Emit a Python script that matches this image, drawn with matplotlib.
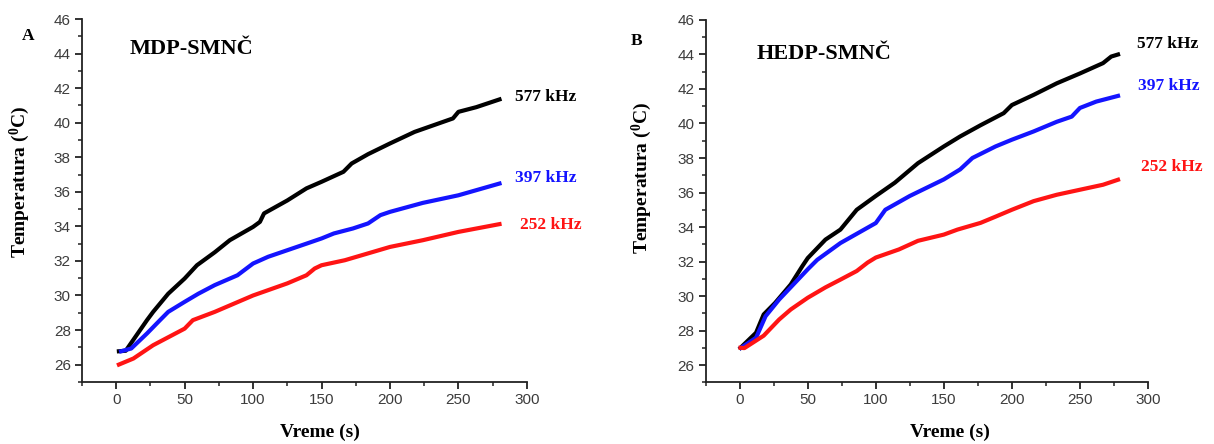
import matplotlib
matplotlib.use("Agg")
import matplotlib.pyplot as plt
from matplotlib.ticker import MultipleLocator

# Heating curves, panel A (MDP-SMNČ)
t_a_577 = [2, 7, 22.5, 27, 38, 50, 59, 72, 83, 100, 105, 108, 125, 139, 150, 166, 172, 184, 200, 218, 232, 246, 250, 263, 280]
T_a_577 = [26.77, 26.8, 28.57, 29.05, 30.1, 30.98, 31.75, 32.5, 33.2, 33.97, 34.26, 34.75, 35.5, 36.2, 36.58, 37.16, 37.64, 38.18, 38.8, 39.47, 39.86, 40.25, 40.63, 40.9, 41.35]

t_a_397 = [3.6, 11, 22.5, 32, 38, 50, 60, 72, 88.6, 100, 111, 125, 139, 150, 159, 173, 184, 193, 200, 224, 250, 280]
T_a_397 = [26.77, 26.93, 27.8, 28.57, 29.05, 29.63, 30.1, 30.6, 31.17, 31.85, 32.24, 32.62, 33.0, 33.3, 33.59, 33.88, 34.17, 34.65, 34.84, 35.36, 35.8, 36.48]

t_a_252 = [2, 12.6, 27, 50, 56, 72, 100, 125, 139, 145, 150, 167, 200, 224, 250, 280]
T_a_252 = [26.0, 26.35, 27.12, 28.08, 28.57, 29.05, 30.0, 30.7, 31.17, 31.56, 31.75, 32.04, 32.81, 33.2, 33.68, 34.13]

# Heating curves, panel B (HEDP-SMNČ)
t_b_577 = [0.6, 12, 17.6, 26, 37.5, 46, 50, 63, 74, 86, 100, 114, 131, 150, 162, 177, 194, 200, 216, 233, 250, 267, 273, 278]
T_b_577 = [27.0, 27.87, 28.93, 29.6, 30.67, 31.73, 32.2, 33.27, 33.85, 35.0, 35.8, 36.57, 37.7, 38.67, 39.25, 39.9, 40.6, 41.07, 41.66, 42.33, 42.9, 43.5, 43.88, 44.0]

t_b_397 = [1, 12, 19, 29, 50, 57, 74, 100, 107, 125, 150, 162, 171, 188, 200, 216, 233, 244, 250, 262, 278]
T_b_397 = [27.0, 27.58, 28.83, 29.8, 31.55, 32.1, 33.07, 34.23, 35.0, 35.8, 36.76, 37.34, 38.0, 38.67, 39.06, 39.54, 40.1, 40.4, 40.9, 41.27, 41.6]

t_b_252 = [0.6, 3.4, 17.6, 29, 37.5, 50, 63, 74, 86, 94, 100, 117, 131, 150, 160, 177, 188, 200, 216, 233, 250, 267, 278]
T_b_252 = [27.0, 26.98, 27.7, 28.64, 29.22, 29.9, 30.5, 30.95, 31.45, 31.94, 32.23, 32.7, 33.2, 33.56, 33.85, 34.24, 34.6, 35.0, 35.5, 35.87, 36.16, 36.45, 36.74]

freq_labels = ["577 kHz", "397 kHz", "252 kHz"]
colors = ["#000000", "#1414ff", "#ff1414"]

# label anchor points (data coordinates) for each series
lab_a = [(291, 41.5), (291, 36.8), (295, 34.1)]
lab_b = [(292, 44.6), (293, 42.2), (295, 37.5)]

serif = ["Liberation Serif", "DejaVu Serif"]
sans = ["Liberation Sans", "DejaVu Sans"]
tick_color = "#3c3c3c"

fig = plt.figure(figsize=(12.14, 4.44), dpi=100)
ax_a = fig.add_axes([0.0675, 0.140, 0.3665, 0.817])
ax_b = fig.add_axes([0.5813, 0.139, 0.3643, 0.816])

panels = [
    (ax_a, [(t_a_577, T_a_577), (t_a_397, T_a_397), (t_a_252, T_a_252)], lab_a,
     "MDP-SMNČ", (0.108, 0.917), (0.535, -0.139), (-0.112, 0.55)),
    (ax_b, [(t_b_577, T_b_577), (t_b_397, T_b_397), (t_b_252, T_b_252)], lab_b,
     "HEDP-SMNČ", (0.115, 0.906), (0.552, -0.139), (-0.118, 0.564)),
]

for ax, series, labs, title, title_pos, xl_pos, yl_pos in panels:
    for (t, T), c, lab, (lx, ly) in zip(series, colors, freq_labels, labs):
        ax.plot(t, T, color=c, lw=3.0, solid_joinstyle="round")
        ax.text(lx, ly, lab, color=c, fontsize=12.5, fontweight="bold",
                family=serif, ha="left", va="center", clip_on=False)
    ax.set_xlim(-25, 300)
    ax.set_ylim(25, 46)
    ax.xaxis.set_major_locator(MultipleLocator(50))
    ax.xaxis.set_minor_locator(MultipleLocator(25))
    ax.yaxis.set_minor_locator(MultipleLocator(1))
    ax.set_yticks(range(26, 47, 2))
    for s in ("top", "right"):
        ax.spines[s].set_visible(False)
    for s in ("left", "bottom"):
        ax.spines[s].set_linewidth(1.3)
        ax.spines[s].set_color("#222222")
    ax.tick_params(which="major", direction="out", length=5, width=1.3,
                   color="#222222", labelsize=11, labelcolor=tick_color, pad=3)
    ax.tick_params(which="minor", direction="out", length=3, width=1.1, color="#222222")
    for lbl in ax.get_xticklabels() + ax.get_yticklabels():
        lbl.set_family(sans)
    xlab = ax.set_xlabel("Vreme (s)", fontsize=14, fontweight="bold", family=serif)
    xlab.set_va("center")
    ax.xaxis.set_label_coords(*xl_pos)
    ax.set_ylabel(r"Temperatura ($\mathregular{^{0}}$C)", fontsize=14,
                  fontweight="bold", family=serif)
    ax.yaxis.set_label_coords(*yl_pos)
    ax.text(title_pos[0], title_pos[1], title, transform=ax.transAxes,
            fontsize=16, fontweight="bold", family=serif, va="center", ha="left")

fig.text(28 / 1214, 1 - 36 / 444, "A", fontsize=12.5, fontweight="bold", family=serif,
         ha="center", va="center")
fig.text(637 / 1214, 1 - 41 / 444, "B", fontsize=12.5, fontweight="bold", family=serif,
         ha="center", va="center")

fig.savefig("out.png", dpi=100)
